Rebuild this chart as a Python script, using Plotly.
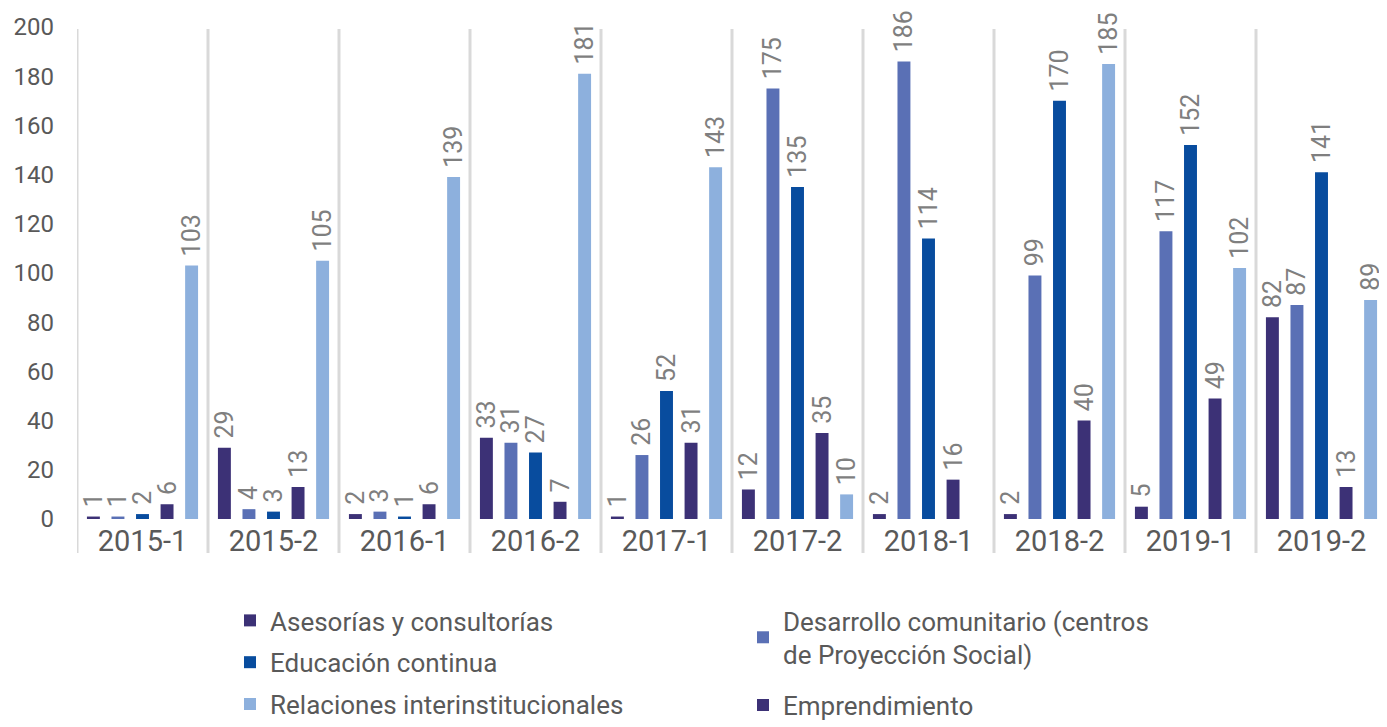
import plotly.graph_objects as go

categories = ["2015-1", "2015-2", "2016-1", "2016-2", "2017-1",
              "2017-2", "2018-1", "2018-2", "2019-1", "2019-2"]

asesorias = [1, 29, 2, 33, 1, 12, 2, 2, 5, 82]
desarrollo = [1, 4, 3, 31, 26, 175, 186, 99, 117, 87]
educacion = [2, 3, 1, 27, 52, 135, 114, 170, 152, 141]
emprendimiento = [6, 13, 6, 7, 31, 35, 16, 40, 49, 13]
relaciones = [103, 105, 139, 181, 143, 10, None, 185, 102, 89]

y_ticks = [0, 20, 40, 60, 80, 100, 120, 140, 160, 180, 200]

series = [
    ("Asesorías y consultorías", asesorias, "#3C3176", "legend"),
    ("Desarrollo comunitario (centros<br>de Proyección Social)", desarrollo, "#5A70B5", "legend2"),
    ("Educación continua", educacion, "#084C9E", "legend"),
    ("Emprendimiento", emprendimiento, "#3C3176", "legend2"),
    ("Relaciones interinstitucionales", relaciones, "#8DB0DD", "legend"),
]

FONT = "Roboto"
fig = go.Figure()
for i, (name, vals, color, lg) in enumerate(series):
    fig.add_trace(go.Bar(
        x=categories, y=vals, name=name,
        marker=dict(color=color, line=dict(width=0)),
        text=[("" if v is None else "\u00a0" + str(v)) for v in vals],
        textposition="outside", textangle=-90,
        textfont=dict(family=FONT, size=25, color="#7F7F7F"),
        constraintext="none", cliponaxis=False,
        legend=lg, legendgroup=f"g{i}",
    ))

# vertical separators between categories
shapes = []
for k in range(len(categories) + 1):
    shapes.append(dict(type="line", xref="x", yref="paper",
                       x0=k - 0.5, x1=k - 0.5, y0=-0.069, y1=0.996,
                       line=dict(color="#D9D9D9", width=3), layer="below"))

# page body has an 8px default margin; figure sized to fit the window
fig.update_layout(
    width=1379, height=719,
    margin=dict(l=69, r=0, t=19, b=208, autoexpand=False),
    paper_bgcolor="white", plot_bgcolor="white",
    barmode="group", bargap=0.063, bargroupgap=0.473,
    font=dict(family=FONT, color="#595959", size=22),
    shapes=shapes,
    xaxis=dict(type="category", range=[-0.5, 9.5], showgrid=False,
               showline=False, ticks="", zeroline=False, automargin=False,
               tickfont=dict(size=29, color="#595959"),
               ticklabelstandoff=2),
    yaxis=dict(range=[0, 200], tickvals=y_ticks, showgrid=False,
               showline=False, zeroline=False, ticks="", automargin=False,
               tickfont=dict(size=24, color="#595959"),
               ticklabelstandoff=22),
    legend=dict(x=0.1168, y=-0.1585, xanchor="left", yanchor="top",
                orientation="v", font=dict(size=26, color="#595959"),
                tracegroupgap=5, bgcolor="rgba(0,0,0,0)"),
    legend2=dict(x=0.5084, y=-0.1585, xanchor="left", yanchor="top",
                 orientation="v", font=dict(size=26, color="#595959"),
                 tracegroupgap=14, bgcolor="rgba(0,0,0,0)"),
    showlegend=True,
)

fig.write_html("out.html")
